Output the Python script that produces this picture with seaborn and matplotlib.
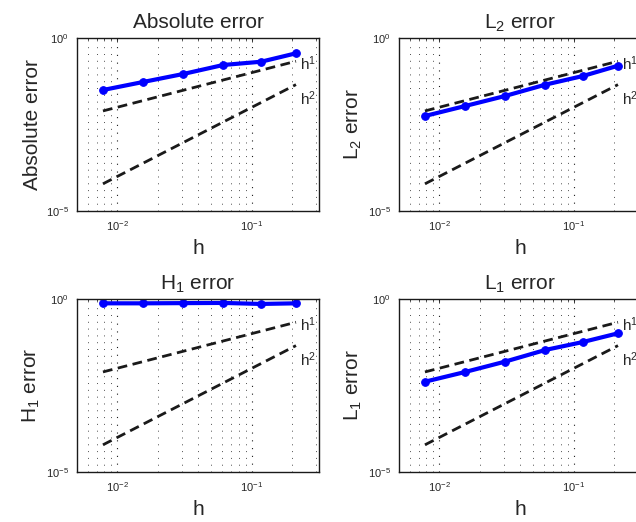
import matplotlib
matplotlib.use("Agg")
import matplotlib.pyplot as plt
import seaborn as sns
import pandas as pd

# mesh sizes and the four error measures
h = [0.0078, 0.0155, 0.0308, 0.0612, 0.117, 0.213]
abs_err = [0.0314, 0.0535, 0.091, 0.166, 0.206, 0.361]
l2_err = [0.00557, 0.0108, 0.0211, 0.0447, 0.0798, 0.158]
h1_err = [0.75, 0.75, 0.76, 0.77, 0.72, 0.75]
l1_err = [0.00407, 0.00776, 0.0155, 0.0336, 0.0572, 0.102]

# reference slope lines (end points)
ref_x = [0.0078, 0.213]
ref_h1 = [0.0078, 0.213]
ref_h2 = [6.1e-5, 0.045]

titles = ["Absolute error", "L$_2$ error", "H$_1$ error", "L$_1$ error"]
ylabels = ["Absolute error", "L$_2$ error", "H$_1$ error", "L$_1$ error"]
errors = [abs_err, l2_err, h1_err, l1_err]

sns.set_theme(style="white")
plt.rcParams["font.family"] = ["Liberation Sans", "DejaVu Sans"]
plt.rcParams["mathtext.default"] = "regular"

fig = plt.figure(figsize=(6.36, 5.22), dpi=100)

W, H = 636.0, 522.0
boxes = [(77, 38), (399, 38), (77, 299), (399, 299)]
aw, ah = 242, 173

for i in range(4):
    x0, top = boxes[i]
    ax = fig.add_axes([x0 / W, 1 - (top + ah) / H, aw / W, ah / H])
    df = pd.DataFrame({"h": h, "err": errors[i]})
    sns.lineplot(data=df, x="h", y="err", ax=ax, color="#0000ff", linewidth=3,
                 marker="o", markersize=5.5, markeredgecolor="#0000ff")
    sns.lineplot(x=ref_x, y=ref_h1, ax=ax, color="k", linewidth=2,
                 linestyle=(0, (3.5, 2)))
    sns.lineplot(x=ref_x, y=ref_h2, ax=ax, color="k", linewidth=2,
                 linestyle=(0, (3.5, 2)))
    ax.set_xscale("log")
    ax.set_yscale("log")
    ax.set_xlim(0.005, 0.316)
    ax.set_ylim(1e-5, 1)
    ax.set_yticks([1e-5, 1])
    ax.yaxis.set_minor_locator(matplotlib.ticker.NullLocator())
    ax.set_xticks([1e-2, 1e-1])
    ax.grid(True, which="major", axis="x", linestyle=(0, (1, 6)), color="k", linewidth=0.8)
    ax.grid(True, which="minor", axis="x", linestyle=(0, (1, 6)), color="0.3", linewidth=0.7)
    ax.tick_params(which="both", direction="in", top=True, right=True,
                   labelsize=8, pad=6, length=3, width=0.6, color="k")
    ax.tick_params(which="minor", length=1.5)
    for s in ax.spines.values():
        s.set_color("k")
        s.set_linewidth(1.0)
    ax.set_title(titles[i], fontsize=15, pad=7)
    ax.set_xlabel("h", fontsize=15, labelpad=4)
    ax.set_ylabel(ylabels[i], fontsize=15, labelpad=3)
    ax.annotate("h$^1$", xy=(ref_x[-1], ref_h1[-1]), xytext=(3, -2),
                textcoords="offset points", fontsize=11, va="center", ha="left")
    ax.annotate("h$^2$", xy=(ref_x[-1], ref_h2[-1]), xytext=(3, -10),
                textcoords="offset points", fontsize=11, va="center", ha="left")

fig.savefig("out.png", dpi=100)
